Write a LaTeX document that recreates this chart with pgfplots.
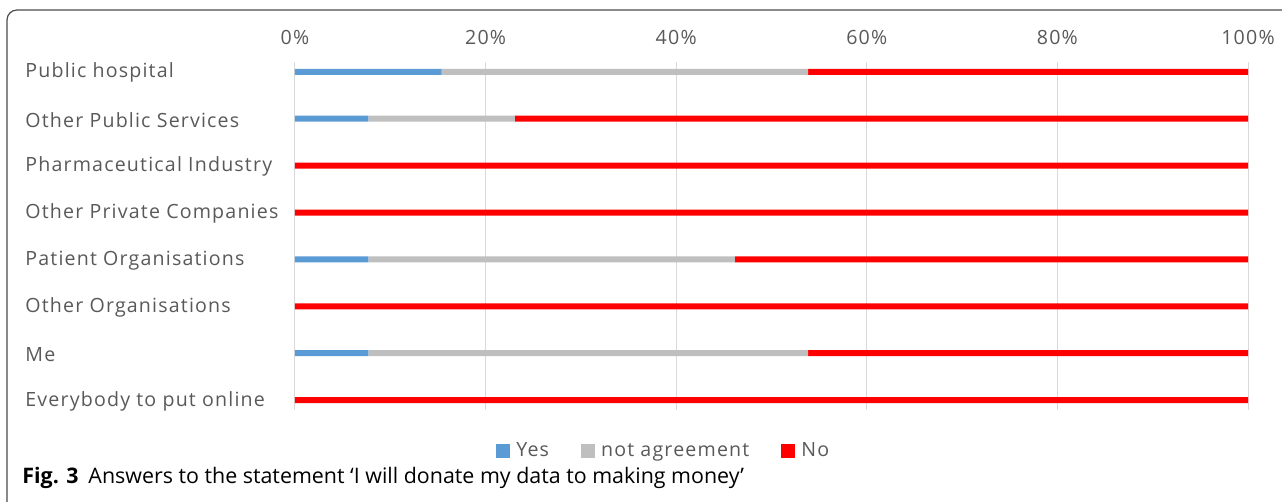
\documentclass[border=0pt]{standalone}
\usepackage{pgfplots}
\pgfplotsset{compat=1.18}
\usepackage{fontspec}
\setmainfont{Open Sans}
\newfontfamily\lblfont[LetterSpace=6]{Open Sans}
\newfontfamily\capfont{Open Sans}
\definecolor{cyes}{HTML}{5B9BD5}
\definecolor{cmid}{HTML}{BFBFBF}
\definecolor{cno}{HTML}{FF0000}
\definecolor{ctxt}{HTML}{595959}
\definecolor{cgrid}{HTML}{D9D9D9}
\begin{document}
\begin{tikzpicture}[x=1pt,y=1pt]
\path[use as bounding box] (0,0) rectangle (641,251);
% frame
\draw[color=black!70, line width=0.6pt, rounded corners=5pt] (3.5,-2) -- (3.5,246) -- (645,246);
\begin{axis}[
  at={(147.5pt,46pt)}, anchor=south west,
  scale only axis, width=476.5pt, height=174pt,
  xbar stacked, bar width=3pt,
  xmin=0, xmax=100, ymin=-0.21, ymax=7.21,
  y dir=reverse,
  axis line style={draw=none},
  major tick length=0pt,
  xtick={0,20,40,60,80,100},
  xticklabels={0\%,20\%,40\%,60\%,80\%,100\%},
  xticklabel pos=upper,
  xticklabel style={font=\lblfont\fontsize{9.8}{11}\selectfont, text=ctxt, yshift=5pt},
  xmajorgrids, grid style={cgrid, line width=0.5pt},
  ytick={0,...,7},
  yticklabels={Public hospital,Other Public Services,Pharmaceutical Industry,Other Private Companies,Patient Organisations,Other Organisations,Me,Everybody to put online},
  yticklabel style={font=\lblfont\fontsize{9.8}{11}\selectfont, text=ctxt, anchor=west, inner sep=0pt, xshift=-135pt, yshift=-0.5pt},
  legend style={at={(0.388,-0.118)}, anchor=center, draw=none, fill=none, legend columns=-1,
    font=\lblfont\fontsize{9.8}{11}\selectfont, text=ctxt,
    /tikz/every odd column/.append style={column sep=1pt},
    /tikz/every even column/.append style={column sep=14pt}},
  legend image code/.code={\fill[#1,draw=none] (0pt,-3.5pt) rectangle (7pt,3.5pt);},
]
\addplot[fill=cyes, draw=none] coordinates {(15.38,0) (7.69,1) (0,2) (0,3) (7.69,4) (0,5) (7.69,6) (0,7)};
\addplot[fill=cmid, draw=none] coordinates {(38.46,0) (15.38,1) (0,2) (0,3) (38.46,4) (0,5) (46.15,6) (0,7)};
\addplot[fill=cno, draw=none] coordinates {(46.16,0) (76.93,1) (100,2) (100,3) (53.85,4) (100,5) (46.16,6) (100,7)};
\legend{Yes,not agreement,No}
\end{axis}
\node[anchor=west, inner sep=0pt, font=\capfont\fontsize{10.7}{12}\selectfont] at (11,12) {\textbf{Fig. 3}\hspace{5pt}Answers to the statement ‘I will donate my data to making money’};
\end{tikzpicture}
\end{document}
